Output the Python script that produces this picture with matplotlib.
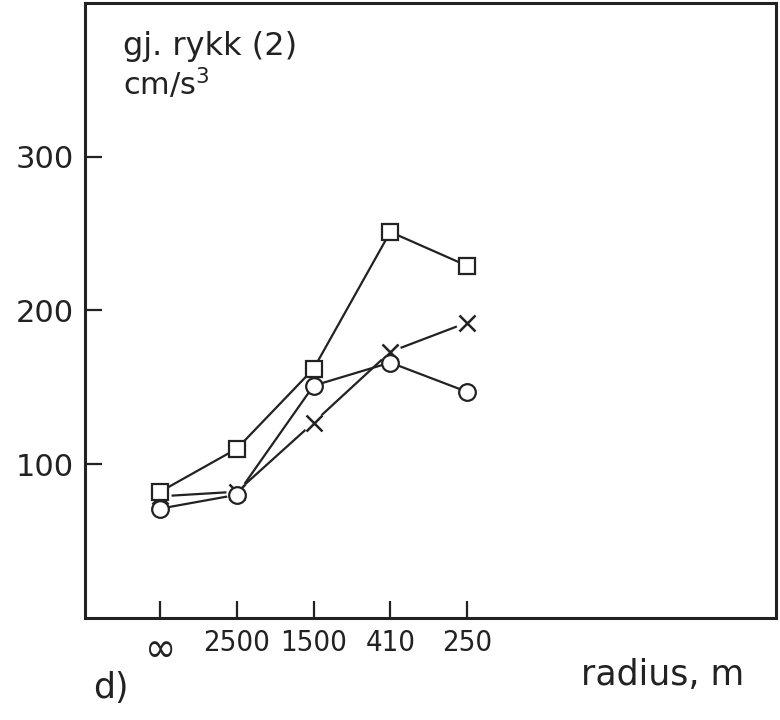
import matplotlib
matplotlib.use("Agg")
import matplotlib.pyplot as plt

# radius labels (x categories)
radius_labels = ["\u221e", "2500", "1500", "410", "250"]
x_pos = [0, 1, 2, 3, 4]

# gj. rykk (2), cm/s^3
rykk_square = [82, 110, 162, 251, 229]
rykk_circle = [71, 80, 151, 166, 147]
rykk_cross = [79, 82, 127, 173, 192]

plt.rcParams['font.family'] = ['DejaVu Sans']
ink = '#222222'

fig = plt.figure(figsize=(7.8, 7.2), dpi=100)
ax = fig.add_axes([0.109, 0.142, 0.886, 0.854])

lw = 1.6
ax.plot(x_pos, rykk_square, color=ink, lw=lw, zorder=2)
ax.plot(x_pos, rykk_circle, color=ink, lw=lw, zorder=2)
ax.plot(x_pos, rykk_cross, color=ink, lw=lw, zorder=2)

# white halo behind the crosses so the lines stop short of them
ax.plot(x_pos, rykk_cross, ls='none', marker='o', ms=15, mfc='white', mec='white', zorder=3)
ax.plot(x_pos, rykk_cross, ls='none', marker='x', ms=11, mew=1.8, color=ink, zorder=4)
ax.plot(x_pos, rykk_square, ls='none', marker='s', ms=12, mfc='white', mec=ink, mew=1.6, zorder=5)
ax.plot(x_pos, rykk_circle, ls='none', marker='o', ms=12, mfc='white', mec=ink, mew=1.6, zorder=6)

ax.set_xlim(-0.98, 8.03)
ax.set_ylim(0, 400)
ax.set_yticks([100, 200, 300])
ax.tick_params(direction='in', length=12, width=1.6, labelsize=22, color=ink, labelcolor=ink)
ax.tick_params(axis='x', pad=8)
ax.tick_params(axis='y', pad=8)
ax.set_xticks(x_pos)
ax.set_xticklabels(radius_labels, fontstretch='condensed', fontsize=21, color=ink)
ax.get_xticklabels()[0].set_fontsize(30)
for s in ax.spines.values():
    s.set_linewidth(2.2)
    s.set_color(ink)

ax.text(0.055, 0.915, "gj. rykk (2)", transform=ax.transAxes, fontsize=23, color=ink)
ax.text(0.055, 0.85, "cm/s$^3$", transform=ax.transAxes, fontsize=22, color=ink)

fig.text(0.745, 0.048, "radius, m", fontsize=25, color=ink)
fig.text(0.12, 0.03, "d)", fontsize=25, color=ink)

fig.savefig("out.png", dpi=100)
